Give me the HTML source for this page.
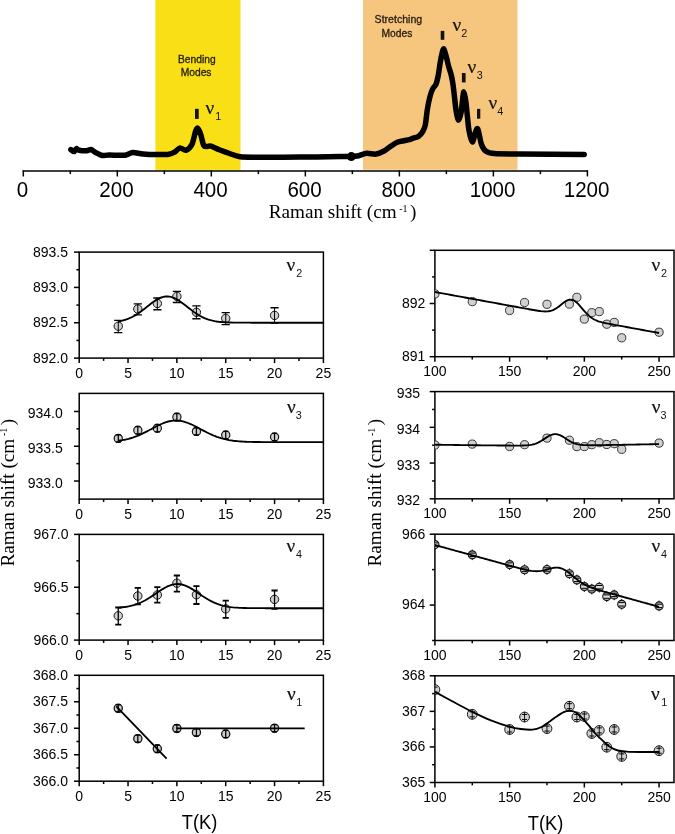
<!DOCTYPE html>
<html><head><meta charset="utf-8"><style>
html,body{margin:0;padding:0;background:#fff;width:675px;height:834px;overflow:hidden}
svg{display:block;will-change:transform}
text{font-family:"Liberation Sans",sans-serif}
text.sf{font-family:"Liberation Serif",serif}
</style></head><body>
<svg width="675" height="834" viewBox="0 0 675 834">
<rect x="155.4" y="0" width="85.1" height="169.9" fill="#f9df15"/>
<rect x="363" y="0" width="154.5" height="169.8" fill="#f6c67e"/>
<text x="196.8" y="62.5" font-size="10.3" text-anchor="middle" textLength="37.6" lengthAdjust="spacingAndGlyphs" fill="#262208" stroke="#262208" stroke-width="0.3">Bending</text>
<text x="196.1" y="75.6" font-size="10.3" text-anchor="middle" textLength="30.8" lengthAdjust="spacingAndGlyphs" fill="#262208" stroke="#262208" stroke-width="0.3">Modes</text>
<text x="398.4" y="23.2" font-size="10.3" text-anchor="middle" textLength="47.6" lengthAdjust="spacingAndGlyphs" fill="#2a2014" stroke="#2a2014" stroke-width="0.3">Stretching</text>
<text x="396.9" y="36.5" font-size="10.3" text-anchor="middle" textLength="30.8" lengthAdjust="spacingAndGlyphs" fill="#2a2014" stroke="#2a2014" stroke-width="0.3">Modes</text>
<path d="M70.9,149.6 C71.37,149.9 73.19,151.75 74,151.6 C74.81,151.45 75.5,148.79 76.3,148.6 C77.09,148.41 77.74,149.97 79.3,150.3 C80.86,150.63 84.93,150.92 86.7,150.8 C88.47,150.68 89.77,149.25 91.1,149.5 C92.43,149.75 93.93,151.6 95.6,152.5 C97.27,153.4 100.2,155.12 102.2,155.5 C104.2,155.88 105.45,155.05 108.9,155 C112.35,154.95 121.65,155.57 125.2,155.2 C128.75,154.82 129.93,152.68 132.6,152.5 C135.27,152.32 139.44,153.69 143,154 C146.56,154.31 152.42,154.56 156.3,154.6 C160.19,154.64 166.12,154.69 168.9,154.3 C171.68,153.91 173.14,152.96 174.8,152 C176.47,151.04 178.34,148.16 180,147.9 C181.66,147.65 184.12,150.8 185.9,150.3 C187.69,149.81 190.44,147.45 191.9,144.6 C193.36,141.75 194.72,133.75 195.6,131.3 C196.48,128.86 197.04,127.85 197.8,128.3 C198.56,128.75 199.81,131.74 200.7,134.3 C201.58,136.87 202.69,143.59 203.7,145.4 C204.7,147.22 206.29,146.3 207.4,146.4 C208.51,146.5 209.31,145.59 211.1,146.1 C212.88,146.61 216.53,148.69 219.3,149.8 C222.08,150.91 226.5,152.45 229.6,153.5 C232.7,154.55 235.44,156.25 240,156.8 C244.56,157.36 251,157.16 260,157.2 C269,157.24 288,157.19 300,157.1 C312,157.01 332.31,156.67 340,156.6 C347.69,156.53 348.5,156.73 351.3,156.6 C354.11,156.47 356.39,156.19 358.7,155.7 C361.01,155.2 364.1,153.54 366.7,153.3 C369.3,153.06 373.4,154.44 376,154.1 C378.6,153.75 381.8,152.17 384,151 C386.2,149.83 388.7,147.61 390.7,146.3 C392.69,145 395.31,143.14 397.3,142.3 C399.3,141.46 402.2,141.09 404,140.7 C405.8,140.31 407.91,140.09 409.3,139.7 C410.69,139.31 411.89,138.61 413.3,138.1 C414.71,137.59 417.29,137.26 418.7,136.3 C420.11,135.34 421.71,133.39 422.7,131.7 C423.69,130 424.6,128.39 425.3,125 C426,121.61 426.68,113.44 427.4,109.1 C428.12,104.76 429.29,99.17 430.1,96.1 C430.91,93.02 431.92,90.38 432.8,88.6 C433.69,86.81 435.19,86.15 436,84.2 C436.81,82.25 437.54,78.99 438.2,75.6 C438.86,72.21 439.75,65.2 440.4,61.6 C441.04,58 441.98,53.49 442.5,51.6 C443.02,49.71 443.33,48.22 443.9,49 C444.47,49.78 445.61,54.26 446.3,56.8 C446.99,59.34 447.78,63.25 448.5,65.9 C449.22,68.56 450.46,71.91 451.1,74.5 C451.75,77.09 452.31,79.96 452.8,83.2 C453.3,86.44 453.92,92.06 454.4,96.1 C454.88,100.13 455.43,106.53 456,110.1 C456.57,113.67 457.46,119.41 458.2,119.9 C458.94,120.4 460.25,116.33 460.9,113.4 C461.54,110.48 462.06,103.64 462.5,100.4 C462.94,97.16 463.32,91.8 463.8,91.8 C464.28,91.8 465.18,96.84 465.7,100.4 C466.22,103.96 466.81,110.98 467.3,115.5 C467.8,120.02 468.25,126.53 469,130.5 C469.75,134.47 471.36,141.66 472.3,142 C473.25,142.34 474.48,134.75 475.3,132.8 C476.12,130.85 476.87,127.25 477.8,129 C478.73,130.75 480.27,141.16 481.5,144.5 C482.73,147.84 484.06,149.94 486,151.3 C487.94,152.67 489.3,153.18 494.4,153.6 C499.5,154.02 506.53,153.98 520,154.1 C533.47,154.22 574.57,154.36 584.2,154.4" fill="none" stroke="#000" stroke-width="5.5" stroke-linejoin="round" stroke-linecap="round"/>
<circle cx="351.3" cy="156.6" r="4.5" fill="#000"/>
<rect x="195" y="108.8" width="3.7" height="10.1" fill="#111"/>
<rect x="440.7" y="30.9" width="3.6" height="8.9" fill="#111"/>
<rect x="461.9" y="73" width="3.7" height="9.4" fill="#111"/>
<rect x="477" y="108.9" width="3.3" height="9.8" fill="#111"/>
<text x="205.6" y="114.4" class="sf" font-size="19.2" fill="#111" stroke="#111" stroke-width="0.2">&#957;</text>
<text x="215.2" y="120.3" font-size="10.8" fill="#111">1</text>
<text x="452.4" y="31.2" class="sf" font-size="19.2" fill="#111" stroke="#111" stroke-width="0.2">&#957;</text>
<text x="461.3" y="36.5" font-size="10.8" fill="#111">2</text>
<text x="467.6" y="73" class="sf" font-size="19.2" fill="#111" stroke="#111" stroke-width="0.2">&#957;</text>
<text x="476.8" y="79.4" font-size="10.8" fill="#111">3</text>
<text x="488.4" y="109.3" class="sf" font-size="19.2" fill="#111" stroke="#111" stroke-width="0.2">&#957;</text>
<text x="497.3" y="115.2" font-size="10.8" fill="#111">4</text>
<line x1="22.7" y1="170.95" x2="588" y2="170.95" stroke="#000" stroke-width="1.5"/>
<line x1="23.3" y1="170.35" x2="23.3" y2="176.45" stroke="#000" stroke-width="1.5"/>
<text x="22.5" y="196.8" font-size="22.6" text-anchor="middle" textLength="11.44" lengthAdjust="spacingAndGlyphs" fill="#000">0</text>
<line x1="70.31" y1="170.35" x2="70.31" y2="174.15" stroke="#000" stroke-width="1.5"/>
<line x1="117.32" y1="170.35" x2="117.32" y2="176.45" stroke="#000" stroke-width="1.5"/>
<text x="116.52" y="196.8" font-size="22.6" text-anchor="middle" textLength="34.31" lengthAdjust="spacingAndGlyphs" fill="#000">200</text>
<line x1="164.33" y1="170.35" x2="164.33" y2="174.15" stroke="#000" stroke-width="1.5"/>
<line x1="211.33" y1="170.35" x2="211.33" y2="176.45" stroke="#000" stroke-width="1.5"/>
<text x="210.53" y="196.8" font-size="22.6" text-anchor="middle" textLength="34.31" lengthAdjust="spacingAndGlyphs" fill="#000">400</text>
<line x1="258.34" y1="170.35" x2="258.34" y2="174.15" stroke="#000" stroke-width="1.5"/>
<line x1="305.35" y1="170.35" x2="305.35" y2="176.45" stroke="#000" stroke-width="1.5"/>
<text x="304.55" y="196.8" font-size="22.6" text-anchor="middle" textLength="34.31" lengthAdjust="spacingAndGlyphs" fill="#000">600</text>
<line x1="352.36" y1="170.35" x2="352.36" y2="174.15" stroke="#000" stroke-width="1.5"/>
<line x1="399.37" y1="170.35" x2="399.37" y2="176.45" stroke="#000" stroke-width="1.5"/>
<text x="398.57" y="196.8" font-size="22.6" text-anchor="middle" textLength="34.31" lengthAdjust="spacingAndGlyphs" fill="#000">800</text>
<line x1="446.38" y1="170.35" x2="446.38" y2="174.15" stroke="#000" stroke-width="1.5"/>
<line x1="493.38" y1="170.35" x2="493.38" y2="176.45" stroke="#000" stroke-width="1.5"/>
<text x="492.58" y="196.8" font-size="22.6" text-anchor="middle" textLength="45.74" lengthAdjust="spacingAndGlyphs" fill="#000">1000</text>
<line x1="540.39" y1="170.35" x2="540.39" y2="174.15" stroke="#000" stroke-width="1.5"/>
<line x1="587.4" y1="170.35" x2="587.4" y2="176.45" stroke="#000" stroke-width="1.5"/>
<text x="586.6" y="196.8" font-size="22.6" text-anchor="middle" textLength="45.74" lengthAdjust="spacingAndGlyphs" fill="#000">1200</text>
<text x="268.7" y="218.1" class="sf" font-size="19.2" fill="#000">Raman shift (cm<tspan font-size="10" dx="2.6" dy="-6.5">-1</tspan><tspan dx="2.4" dy="6.5">)</tspan></text>
<rect x="79.2" y="252.1" width="244.2" height="106" fill="none" stroke="#000" stroke-width="1.5"/>
<line x1="74" y1="252.1" x2="79.2" y2="252.1" stroke="#000" stroke-width="1.5"/>
<line x1="74" y1="287.43" x2="79.2" y2="287.43" stroke="#000" stroke-width="1.5"/>
<line x1="74" y1="322.77" x2="79.2" y2="322.77" stroke="#000" stroke-width="1.5"/>
<line x1="74" y1="358.1" x2="79.2" y2="358.1" stroke="#000" stroke-width="1.5"/>
<line x1="76.4" y1="269.77" x2="79.2" y2="269.77" stroke="#000" stroke-width="1.5"/>
<line x1="76.4" y1="305.1" x2="79.2" y2="305.1" stroke="#000" stroke-width="1.5"/>
<line x1="76.4" y1="340.43" x2="79.2" y2="340.43" stroke="#000" stroke-width="1.5"/>
<text x="68" y="256.5" font-size="14" text-anchor="end" fill="#000">893.5</text>
<text x="68" y="291.83" font-size="14" text-anchor="end" fill="#000">893.0</text>
<text x="68" y="327.17" font-size="14" text-anchor="end" fill="#000">892.5</text>
<text x="68" y="362.5" font-size="14" text-anchor="end" fill="#000">892.0</text>
<line x1="79.2" y1="358.1" x2="79.2" y2="363.1" stroke="#000" stroke-width="1.5"/>
<line x1="128.04" y1="358.1" x2="128.04" y2="363.1" stroke="#000" stroke-width="1.5"/>
<line x1="176.88" y1="358.1" x2="176.88" y2="363.1" stroke="#000" stroke-width="1.5"/>
<line x1="225.72" y1="358.1" x2="225.72" y2="363.1" stroke="#000" stroke-width="1.5"/>
<line x1="274.56" y1="358.1" x2="274.56" y2="363.1" stroke="#000" stroke-width="1.5"/>
<line x1="323.4" y1="358.1" x2="323.4" y2="363.1" stroke="#000" stroke-width="1.5"/>
<line x1="103.62" y1="358.1" x2="103.62" y2="360.9" stroke="#000" stroke-width="1.5"/>
<line x1="152.46" y1="358.1" x2="152.46" y2="360.9" stroke="#000" stroke-width="1.5"/>
<line x1="201.3" y1="358.1" x2="201.3" y2="360.9" stroke="#000" stroke-width="1.5"/>
<line x1="250.14" y1="358.1" x2="250.14" y2="360.9" stroke="#000" stroke-width="1.5"/>
<line x1="298.98" y1="358.1" x2="298.98" y2="360.9" stroke="#000" stroke-width="1.5"/>
<text x="79.2" y="377.6" font-size="14" text-anchor="middle" fill="#000">0</text>
<text x="128.04" y="377.6" font-size="14" text-anchor="middle" fill="#000">5</text>
<text x="176.88" y="377.6" font-size="14" text-anchor="middle" fill="#000">10</text>
<text x="225.72" y="377.6" font-size="14" text-anchor="middle" fill="#000">15</text>
<text x="274.56" y="377.6" font-size="14" text-anchor="middle" fill="#000">20</text>
<text x="323.4" y="377.6" font-size="14" text-anchor="middle" fill="#000">25</text>
<clipPath id="c1"><rect x="79.2" y="252.1" width="244.2" height="106"/></clipPath><g clip-path="url(#c1)">
<circle cx="118.27" cy="326.2" r="4.2" fill="#d0d0d0" stroke="#151515" stroke-width="1.0"/><path d="M118.27,320.4 V332.6" stroke="#000" stroke-width="1.0" fill="none"/><path d="M114.17,320.4 h8.2 M114.17,332.6 h8.2" stroke="#000" stroke-width="1.35" fill="none"/>
<circle cx="137.81" cy="309" r="4.2" fill="#d0d0d0" stroke="#151515" stroke-width="1.0"/><path d="M137.81,303.9 V314.8" stroke="#000" stroke-width="1.0" fill="none"/><path d="M133.71,303.9 h8.2 M133.71,314.8 h8.2" stroke="#000" stroke-width="1.35" fill="none"/>
<circle cx="157.34" cy="303.5" r="4.2" fill="#d0d0d0" stroke="#151515" stroke-width="1.0"/><path d="M157.34,298 V309.7" stroke="#000" stroke-width="1.0" fill="none"/><path d="M153.24,298 h8.2 M153.24,309.7 h8.2" stroke="#000" stroke-width="1.35" fill="none"/>
<circle cx="176.88" cy="296.4" r="4.2" fill="#d0d0d0" stroke="#151515" stroke-width="1.0"/><path d="M176.88,291.4 V302.5" stroke="#000" stroke-width="1.0" fill="none"/><path d="M172.78,291.4 h8.2 M172.78,302.5 h8.2" stroke="#000" stroke-width="1.35" fill="none"/>
<circle cx="196.42" cy="312.3" r="4.2" fill="#d0d0d0" stroke="#151515" stroke-width="1.0"/><path d="M196.42,305.8 V318.7" stroke="#000" stroke-width="1.0" fill="none"/><path d="M192.32,305.8 h8.2 M192.32,318.7 h8.2" stroke="#000" stroke-width="1.35" fill="none"/>
<circle cx="225.72" cy="318.4" r="4.2" fill="#d0d0d0" stroke="#151515" stroke-width="1.0"/><path d="M225.72,312.6 V324.6" stroke="#000" stroke-width="1.0" fill="none"/><path d="M221.62,312.6 h8.2 M221.62,324.6 h8.2" stroke="#000" stroke-width="1.35" fill="none"/>
<circle cx="274.56" cy="315.4" r="4.2" fill="#d0d0d0" stroke="#151515" stroke-width="1.0"/><path d="M274.56,307.7 V323.1" stroke="#000" stroke-width="1.0" fill="none"/><path d="M270.46,307.7 h8.2 M270.46,323.1 h8.2" stroke="#000" stroke-width="1.35" fill="none"/>
<path d="M118.27,321.36 L120.32,320.98 L122.37,320.53 L124.43,319.99 L126.48,319.34 L128.53,318.59 L130.58,317.72 L132.63,316.73 L134.68,315.61 L136.73,314.38 L138.78,313.03 L140.84,311.58 L142.89,310.05 L144.94,308.45 L146.99,306.83 L149.04,305.2 L151.09,303.6 L153.14,302.08 L155.2,300.67 L157.25,299.41 L159.3,298.33 L161.35,297.47 L163.4,296.85 L165.45,296.49 L167.5,296.41 L169.55,296.59 L171.61,297.05 L173.66,297.77 L175.71,298.71 L177.76,299.87 L179.81,301.19 L181.86,302.65 L183.91,304.2 L185.96,305.82 L188.02,307.45 L190.07,309.07 L192.12,310.64 L194.17,312.14 L196.22,313.56 L198.27,314.86 L200.32,316.05 L202.37,317.12 L204.43,318.07 L206.48,318.89 L208.53,319.6 L210.58,320.21 L212.63,320.71 L214.68,321.14 L216.73,321.48 L218.78,321.76 L220.84,321.98 L222.89,322.16 L224.94,322.29 L226.99,322.4 L229.04,322.48 L231.09,322.54 L233.14,322.59 L235.19,322.62 L237.25,322.64 L239.3,322.66 L241.35,322.67 L243.4,322.68 L245.45,322.69 L247.5,322.69 L249.55,322.69 L251.61,322.7 L253.66,322.7 L255.71,322.7 L257.76,322.7 L259.81,322.7 L261.86,322.7 L263.91,322.7 L265.96,322.7 L268.02,322.7 L270.07,322.7 L272.12,322.7 L274.17,322.7 L276.22,322.7 L278.27,322.7 L280.32,322.7 L282.37,322.7 L284.43,322.7 L286.48,322.7 L288.53,322.7 L290.58,322.7 L292.63,322.7 L294.68,322.7 L296.73,322.7 L298.78,322.7 L300.84,322.7 L302.89,322.7 L304.94,322.7 L306.99,322.7 L309.04,322.7 L311.09,322.7 L313.14,322.7 L315.19,322.7 L317.25,322.7 L319.3,322.7 L321.35,322.7 L323.4,322.7" fill="none" stroke="#000" stroke-width="1.85"/>
</g>
<rect x="79.2" y="393.4" width="244.2" height="105.7" fill="none" stroke="#000" stroke-width="1.5"/>
<line x1="74" y1="411.48" x2="79.2" y2="411.48" stroke="#000" stroke-width="1.5"/>
<line x1="74" y1="446.25" x2="79.2" y2="446.25" stroke="#000" stroke-width="1.5"/>
<line x1="74" y1="481.02" x2="79.2" y2="481.02" stroke="#000" stroke-width="1.5"/>
<line x1="76.4" y1="428.87" x2="79.2" y2="428.87" stroke="#000" stroke-width="1.5"/>
<line x1="76.4" y1="463.63" x2="79.2" y2="463.63" stroke="#000" stroke-width="1.5"/>
<text x="62.8" y="418.08" font-size="14" text-anchor="end" fill="#000">934.0</text>
<text x="62.8" y="452.85" font-size="14" text-anchor="end" fill="#000">933.5</text>
<text x="62.8" y="487.62" font-size="14" text-anchor="end" fill="#000">933.0</text>
<line x1="79.2" y1="499.1" x2="79.2" y2="504.1" stroke="#000" stroke-width="1.5"/>
<line x1="128.04" y1="499.1" x2="128.04" y2="504.1" stroke="#000" stroke-width="1.5"/>
<line x1="176.88" y1="499.1" x2="176.88" y2="504.1" stroke="#000" stroke-width="1.5"/>
<line x1="225.72" y1="499.1" x2="225.72" y2="504.1" stroke="#000" stroke-width="1.5"/>
<line x1="274.56" y1="499.1" x2="274.56" y2="504.1" stroke="#000" stroke-width="1.5"/>
<line x1="323.4" y1="499.1" x2="323.4" y2="504.1" stroke="#000" stroke-width="1.5"/>
<line x1="103.62" y1="499.1" x2="103.62" y2="501.9" stroke="#000" stroke-width="1.5"/>
<line x1="152.46" y1="499.1" x2="152.46" y2="501.9" stroke="#000" stroke-width="1.5"/>
<line x1="201.3" y1="499.1" x2="201.3" y2="501.9" stroke="#000" stroke-width="1.5"/>
<line x1="250.14" y1="499.1" x2="250.14" y2="501.9" stroke="#000" stroke-width="1.5"/>
<line x1="298.98" y1="499.1" x2="298.98" y2="501.9" stroke="#000" stroke-width="1.5"/>
<text x="79.2" y="518.6" font-size="14" text-anchor="middle" fill="#000">0</text>
<text x="128.04" y="518.6" font-size="14" text-anchor="middle" fill="#000">5</text>
<text x="176.88" y="518.6" font-size="14" text-anchor="middle" fill="#000">10</text>
<text x="225.72" y="518.6" font-size="14" text-anchor="middle" fill="#000">15</text>
<text x="274.56" y="518.6" font-size="14" text-anchor="middle" fill="#000">20</text>
<text x="323.4" y="518.6" font-size="14" text-anchor="middle" fill="#000">25</text>
<clipPath id="c2"><rect x="79.2" y="393.4" width="244.2" height="105.7"/></clipPath><g clip-path="url(#c2)">
<circle cx="118.27" cy="438.4" r="4.1" fill="#d0d0d0" stroke="#151515" stroke-width="1.2"/><path d="M118.27,434.8 V442" stroke="#000" stroke-width="1.25" fill="none"/><path d="M115.77,434.8 h5 M115.77,442 h5" stroke="#000" stroke-width="1.3" fill="none"/>
<circle cx="137.81" cy="430.3" r="4.1" fill="#d0d0d0" stroke="#151515" stroke-width="1.2"/><path d="M137.81,426.7 V433.9" stroke="#000" stroke-width="1.25" fill="none"/><path d="M135.31,426.7 h5 M135.31,433.9 h5" stroke="#000" stroke-width="1.3" fill="none"/>
<circle cx="157.34" cy="428.2" r="4.1" fill="#d0d0d0" stroke="#151515" stroke-width="1.2"/><path d="M157.34,424.6 V431.8" stroke="#000" stroke-width="1.25" fill="none"/><path d="M154.84,424.6 h5 M154.84,431.8 h5" stroke="#000" stroke-width="1.3" fill="none"/>
<circle cx="176.88" cy="417.1" r="4.1" fill="#d0d0d0" stroke="#151515" stroke-width="1.2"/><path d="M176.88,413.5 V420.7" stroke="#000" stroke-width="1.25" fill="none"/><path d="M174.38,413.5 h5 M174.38,420.7 h5" stroke="#000" stroke-width="1.3" fill="none"/>
<circle cx="196.42" cy="431.4" r="4.1" fill="#d0d0d0" stroke="#151515" stroke-width="1.2"/><path d="M196.42,427.8 V435" stroke="#000" stroke-width="1.25" fill="none"/><path d="M193.92,427.8 h5 M193.92,435 h5" stroke="#000" stroke-width="1.3" fill="none"/>
<circle cx="225.72" cy="435" r="4.1" fill="#d0d0d0" stroke="#151515" stroke-width="1.2"/><path d="M225.72,431.4 V438.6" stroke="#000" stroke-width="1.25" fill="none"/><path d="M223.22,431.4 h5 M223.22,438.6 h5" stroke="#000" stroke-width="1.3" fill="none"/>
<circle cx="274.56" cy="437" r="4.1" fill="#d0d0d0" stroke="#151515" stroke-width="1.2"/><path d="M274.56,433.4 V440.6" stroke="#000" stroke-width="1.25" fill="none"/><path d="M272.06,433.4 h5 M272.06,440.6 h5" stroke="#000" stroke-width="1.3" fill="none"/>
<path d="M118.27,440.77 L120.32,440.48 L122.37,440.15 L124.43,439.76 L126.48,439.31 L128.53,438.81 L130.58,438.24 L132.63,437.61 L134.68,436.9 L136.73,436.13 L138.78,435.3 L140.84,434.4 L142.89,433.44 L144.94,432.43 L146.99,431.38 L149.04,430.3 L151.09,429.21 L153.14,428.11 L155.2,427.02 L157.25,425.97 L159.3,424.96 L161.35,424.01 L163.4,423.15 L165.45,422.39 L167.5,421.74 L169.55,421.22 L171.61,420.83 L173.66,420.59 L175.71,420.5 L177.76,420.56 L179.81,420.77 L181.86,421.13 L183.91,421.63 L185.96,422.26 L188.02,423 L190.07,423.84 L192.12,424.77 L194.17,425.77 L196.22,426.82 L198.27,427.9 L200.32,429 L202.37,430.1 L204.43,431.18 L206.48,432.24 L208.53,433.25 L210.58,434.22 L212.63,435.13 L214.68,435.98 L216.73,436.76 L218.78,437.48 L220.84,438.13 L222.89,438.71 L224.94,439.22 L226.99,439.68 L229.04,440.08 L231.09,440.42 L233.14,440.72 L235.19,440.97 L237.25,441.18 L239.3,441.36 L241.35,441.5 L243.4,441.63 L245.45,441.73 L247.5,441.81 L249.55,441.87 L251.61,441.92 L253.66,441.96 L255.71,442 L257.76,442.02 L259.81,442.04 L261.86,442.06 L263.91,442.07 L265.96,442.08 L268.02,442.08 L270.07,442.09 L272.12,442.09 L274.17,442.09 L276.22,442.1 L278.27,442.1 L280.32,442.1 L282.37,442.1 L284.43,442.1 L286.48,442.1 L288.53,442.1 L290.58,442.1 L292.63,442.1 L294.68,442.1 L296.73,442.1 L298.78,442.1 L300.84,442.1 L302.89,442.1 L304.94,442.1 L306.99,442.1 L309.04,442.1 L311.09,442.1 L313.14,442.1 L315.19,442.1 L317.25,442.1 L319.3,442.1 L321.35,442.1 L323.4,442.1" fill="none" stroke="#000" stroke-width="1.85"/>
</g>
<rect x="79.2" y="534.4" width="244.2" height="105.7" fill="none" stroke="#000" stroke-width="1.5"/>
<line x1="74" y1="534.4" x2="79.2" y2="534.4" stroke="#000" stroke-width="1.5"/>
<line x1="74" y1="587.25" x2="79.2" y2="587.25" stroke="#000" stroke-width="1.5"/>
<line x1="74" y1="640.1" x2="79.2" y2="640.1" stroke="#000" stroke-width="1.5"/>
<line x1="76.4" y1="560.83" x2="79.2" y2="560.83" stroke="#000" stroke-width="1.5"/>
<line x1="76.4" y1="613.67" x2="79.2" y2="613.67" stroke="#000" stroke-width="1.5"/>
<text x="68.5" y="538.8" font-size="14" text-anchor="end" fill="#000">967.0</text>
<text x="68.5" y="591.65" font-size="14" text-anchor="end" fill="#000">966.5</text>
<text x="68.5" y="644.5" font-size="14" text-anchor="end" fill="#000">966.0</text>
<line x1="79.2" y1="640.1" x2="79.2" y2="645.1" stroke="#000" stroke-width="1.5"/>
<line x1="128.04" y1="640.1" x2="128.04" y2="645.1" stroke="#000" stroke-width="1.5"/>
<line x1="176.88" y1="640.1" x2="176.88" y2="645.1" stroke="#000" stroke-width="1.5"/>
<line x1="225.72" y1="640.1" x2="225.72" y2="645.1" stroke="#000" stroke-width="1.5"/>
<line x1="274.56" y1="640.1" x2="274.56" y2="645.1" stroke="#000" stroke-width="1.5"/>
<line x1="323.4" y1="640.1" x2="323.4" y2="645.1" stroke="#000" stroke-width="1.5"/>
<line x1="103.62" y1="640.1" x2="103.62" y2="642.9" stroke="#000" stroke-width="1.5"/>
<line x1="152.46" y1="640.1" x2="152.46" y2="642.9" stroke="#000" stroke-width="1.5"/>
<line x1="201.3" y1="640.1" x2="201.3" y2="642.9" stroke="#000" stroke-width="1.5"/>
<line x1="250.14" y1="640.1" x2="250.14" y2="642.9" stroke="#000" stroke-width="1.5"/>
<line x1="298.98" y1="640.1" x2="298.98" y2="642.9" stroke="#000" stroke-width="1.5"/>
<text x="79.2" y="659.6" font-size="14" text-anchor="middle" fill="#000">0</text>
<text x="128.04" y="659.6" font-size="14" text-anchor="middle" fill="#000">5</text>
<text x="176.88" y="659.6" font-size="14" text-anchor="middle" fill="#000">10</text>
<text x="225.72" y="659.6" font-size="14" text-anchor="middle" fill="#000">15</text>
<text x="274.56" y="659.6" font-size="14" text-anchor="middle" fill="#000">20</text>
<text x="323.4" y="659.6" font-size="14" text-anchor="middle" fill="#000">25</text>
<clipPath id="c3"><rect x="79.2" y="534.4" width="244.2" height="105.7"/></clipPath><g clip-path="url(#c3)">
<circle cx="118.27" cy="615.8" r="4.2" fill="#d0d0d0" stroke="#151515" stroke-width="1.0"/><path d="M118.27,607.5 V624.6" stroke="#000" stroke-width="1.3" fill="none"/><path d="M115.17,607.5 h6.2 M115.17,624.6 h6.2" stroke="#000" stroke-width="1.8" fill="none"/>
<circle cx="137.81" cy="596" r="4.2" fill="#d0d0d0" stroke="#151515" stroke-width="1.0"/><path d="M137.81,587.8 V604.4" stroke="#000" stroke-width="1.3" fill="none"/><path d="M134.71,587.8 h6.2 M134.71,604.4 h6.2" stroke="#000" stroke-width="1.8" fill="none"/>
<circle cx="157.34" cy="595" r="4.2" fill="#d0d0d0" stroke="#151515" stroke-width="1.0"/><path d="M157.34,587.2 V602.6" stroke="#000" stroke-width="1.3" fill="none"/><path d="M154.24,587.2 h6.2 M154.24,602.6 h6.2" stroke="#000" stroke-width="1.8" fill="none"/>
<circle cx="176.88" cy="583.2" r="4.2" fill="#d0d0d0" stroke="#151515" stroke-width="1.0"/><path d="M176.88,575.5 V591.6" stroke="#000" stroke-width="1.3" fill="none"/><path d="M173.78,575.5 h6.2 M173.78,591.6 h6.2" stroke="#000" stroke-width="1.8" fill="none"/>
<circle cx="196.42" cy="594.8" r="4.2" fill="#d0d0d0" stroke="#151515" stroke-width="1.0"/><path d="M196.42,586.2 V604" stroke="#000" stroke-width="1.3" fill="none"/><path d="M193.32,586.2 h6.2 M193.32,604 h6.2" stroke="#000" stroke-width="1.8" fill="none"/>
<circle cx="225.72" cy="608.9" r="4.2" fill="#d0d0d0" stroke="#151515" stroke-width="1.0"/><path d="M225.72,600.6 V617.8" stroke="#000" stroke-width="1.3" fill="none"/><path d="M222.62,600.6 h6.2 M222.62,617.8 h6.2" stroke="#000" stroke-width="1.8" fill="none"/>
<circle cx="274.56" cy="599.4" r="4.2" fill="#d0d0d0" stroke="#151515" stroke-width="1.0"/><path d="M274.56,590.5 V608.9" stroke="#000" stroke-width="1.3" fill="none"/><path d="M271.46,590.5 h6.2 M271.46,608.9 h6.2" stroke="#000" stroke-width="1.8" fill="none"/>
<path d="M118.27,607.65 L120.32,607.49 L122.37,607.28 L124.43,607.04 L126.48,606.73 L128.53,606.37 L130.58,605.94 L132.63,605.43 L134.68,604.83 L136.73,604.15 L138.78,603.37 L140.84,602.49 L142.89,601.52 L144.94,600.45 L146.99,599.29 L149.04,598.05 L151.09,596.74 L153.14,595.38 L155.2,593.99 L157.25,592.59 L159.3,591.21 L161.35,589.87 L163.4,588.61 L165.45,587.45 L167.5,586.42 L169.55,585.55 L171.61,584.85 L173.66,584.36 L175.71,584.07 L177.76,584 L179.81,584.16 L181.86,584.52 L183.91,585.1 L185.96,585.86 L188.02,586.8 L190.07,587.88 L192.12,589.08 L194.17,590.37 L196.22,591.73 L198.27,593.12 L200.32,594.52 L202.37,595.9 L204.43,597.25 L206.48,598.53 L208.53,599.74 L210.58,600.87 L212.63,601.9 L214.68,602.84 L216.73,603.68 L218.78,604.42 L220.84,605.07 L222.89,605.63 L224.94,606.11 L226.99,606.52 L229.04,606.86 L231.09,607.14 L233.14,607.37 L235.19,607.55 L237.25,607.7 L239.3,607.82 L241.35,607.91 L243.4,607.98 L245.45,608.04 L247.5,608.08 L249.55,608.11 L251.61,608.14 L253.66,608.16 L255.71,608.17 L257.76,608.18 L259.81,608.18 L261.86,608.19 L263.91,608.19 L265.96,608.2 L268.02,608.2 L270.07,608.2 L272.12,608.2 L274.17,608.2 L276.22,608.2 L278.27,608.2 L280.32,608.2 L282.37,608.2 L284.43,608.2 L286.48,608.2 L288.53,608.2 L290.58,608.2 L292.63,608.2 L294.68,608.2 L296.73,608.2 L298.78,608.2 L300.84,608.2 L302.89,608.2 L304.94,608.2 L306.99,608.2 L309.04,608.2 L311.09,608.2 L313.14,608.2 L315.19,608.2 L317.25,608.2 L319.3,608.2 L321.35,608.2 L323.4,608.2" fill="none" stroke="#000" stroke-width="1.85"/>
</g>
<rect x="79.2" y="675.3" width="244.2" height="105.9" fill="none" stroke="#000" stroke-width="1.5"/>
<line x1="74" y1="675.3" x2="79.2" y2="675.3" stroke="#000" stroke-width="1.5"/>
<line x1="74" y1="701.77" x2="79.2" y2="701.77" stroke="#000" stroke-width="1.5"/>
<line x1="74" y1="728.25" x2="79.2" y2="728.25" stroke="#000" stroke-width="1.5"/>
<line x1="74" y1="754.73" x2="79.2" y2="754.73" stroke="#000" stroke-width="1.5"/>
<line x1="74" y1="781.2" x2="79.2" y2="781.2" stroke="#000" stroke-width="1.5"/>
<line x1="76.4" y1="688.54" x2="79.2" y2="688.54" stroke="#000" stroke-width="1.5"/>
<line x1="76.4" y1="715.01" x2="79.2" y2="715.01" stroke="#000" stroke-width="1.5"/>
<line x1="76.4" y1="741.49" x2="79.2" y2="741.49" stroke="#000" stroke-width="1.5"/>
<line x1="76.4" y1="767.96" x2="79.2" y2="767.96" stroke="#000" stroke-width="1.5"/>
<text x="68" y="679.7" font-size="14" text-anchor="end" fill="#000">368.0</text>
<text x="68" y="706.17" font-size="14" text-anchor="end" fill="#000">367.5</text>
<text x="68" y="732.65" font-size="14" text-anchor="end" fill="#000">367.0</text>
<text x="68" y="759.12" font-size="14" text-anchor="end" fill="#000">366.5</text>
<text x="68" y="785.6" font-size="14" text-anchor="end" fill="#000">366.0</text>
<line x1="79.2" y1="781.2" x2="79.2" y2="786.2" stroke="#000" stroke-width="1.5"/>
<line x1="128.04" y1="781.2" x2="128.04" y2="786.2" stroke="#000" stroke-width="1.5"/>
<line x1="176.88" y1="781.2" x2="176.88" y2="786.2" stroke="#000" stroke-width="1.5"/>
<line x1="225.72" y1="781.2" x2="225.72" y2="786.2" stroke="#000" stroke-width="1.5"/>
<line x1="274.56" y1="781.2" x2="274.56" y2="786.2" stroke="#000" stroke-width="1.5"/>
<line x1="323.4" y1="781.2" x2="323.4" y2="786.2" stroke="#000" stroke-width="1.5"/>
<line x1="103.62" y1="781.2" x2="103.62" y2="784" stroke="#000" stroke-width="1.5"/>
<line x1="152.46" y1="781.2" x2="152.46" y2="784" stroke="#000" stroke-width="1.5"/>
<line x1="201.3" y1="781.2" x2="201.3" y2="784" stroke="#000" stroke-width="1.5"/>
<line x1="250.14" y1="781.2" x2="250.14" y2="784" stroke="#000" stroke-width="1.5"/>
<line x1="298.98" y1="781.2" x2="298.98" y2="784" stroke="#000" stroke-width="1.5"/>
<text x="79.2" y="800.7" font-size="14" text-anchor="middle" fill="#000">0</text>
<text x="128.04" y="800.7" font-size="14" text-anchor="middle" fill="#000">5</text>
<text x="176.88" y="800.7" font-size="14" text-anchor="middle" fill="#000">10</text>
<text x="225.72" y="800.7" font-size="14" text-anchor="middle" fill="#000">15</text>
<text x="274.56" y="800.7" font-size="14" text-anchor="middle" fill="#000">20</text>
<text x="323.4" y="800.7" font-size="14" text-anchor="middle" fill="#000">25</text>
<clipPath id="c4"><rect x="79.2" y="675.3" width="244.2" height="105.9"/></clipPath><g clip-path="url(#c4)">
<circle cx="118.27" cy="708.3" r="4.1" fill="#c9c9c9" stroke="#151515" stroke-width="1.3"/><path d="M118.27,704.7 V711.9" stroke="#000" stroke-width="1.25" fill="none"/><path d="M115.77,704.7 h5 M115.77,711.9 h5" stroke="#000" stroke-width="1.4" fill="none"/>
<circle cx="137.81" cy="738.7" r="4.1" fill="#c9c9c9" stroke="#151515" stroke-width="1.3"/><path d="M137.81,735.1 V742.3" stroke="#000" stroke-width="1.25" fill="none"/><path d="M135.31,735.1 h5 M135.31,742.3 h5" stroke="#000" stroke-width="1.4" fill="none"/>
<circle cx="157.34" cy="748.8" r="4.1" fill="#c9c9c9" stroke="#151515" stroke-width="1.3"/><path d="M157.34,745.2 V752.4" stroke="#000" stroke-width="1.25" fill="none"/><path d="M154.84,745.2 h5 M154.84,752.4 h5" stroke="#000" stroke-width="1.4" fill="none"/>
<circle cx="176.88" cy="728.4" r="4.1" fill="#c9c9c9" stroke="#151515" stroke-width="1.3"/><path d="M176.88,724.8 V732" stroke="#000" stroke-width="1.25" fill="none"/><path d="M174.38,724.8 h5 M174.38,732 h5" stroke="#000" stroke-width="1.4" fill="none"/>
<circle cx="196.42" cy="732.4" r="4.1" fill="#c9c9c9" stroke="#151515" stroke-width="1.3"/><path d="M196.42,728.8 V736" stroke="#000" stroke-width="1.25" fill="none"/><path d="M193.92,728.8 h5 M193.92,736 h5" stroke="#000" stroke-width="1.4" fill="none"/>
<circle cx="225.72" cy="734" r="4.1" fill="#c9c9c9" stroke="#151515" stroke-width="1.3"/><path d="M225.72,730.4 V737.6" stroke="#000" stroke-width="1.25" fill="none"/><path d="M223.22,730.4 h5 M223.22,737.6 h5" stroke="#000" stroke-width="1.4" fill="none"/>
<circle cx="274.56" cy="728.2" r="4.1" fill="#c9c9c9" stroke="#151515" stroke-width="1.3"/><path d="M274.56,724.6 V731.8" stroke="#000" stroke-width="1.25" fill="none"/><path d="M272.06,724.6 h5 M272.06,731.8 h5" stroke="#000" stroke-width="1.4" fill="none"/>
<path d="M116.3,706.3 L166.6,758.6 M176.7,728.3 L304.7,728.3" fill="none" stroke="#000" stroke-width="1.85"/>
</g>
<rect x="434.9" y="250.3" width="239.1" height="106.4" fill="none" stroke="#000" stroke-width="1.5"/>
<line x1="429.7" y1="250.3" x2="434.9" y2="250.3" stroke="#000" stroke-width="1.5"/>
<line x1="429.7" y1="303.5" x2="434.9" y2="303.5" stroke="#000" stroke-width="1.5"/>
<line x1="429.7" y1="356.7" x2="434.9" y2="356.7" stroke="#000" stroke-width="1.5"/>
<line x1="432.1" y1="276.9" x2="434.9" y2="276.9" stroke="#000" stroke-width="1.5"/>
<line x1="432.1" y1="330.1" x2="434.9" y2="330.1" stroke="#000" stroke-width="1.5"/>
<text x="425.3" y="307.9" font-size="14" text-anchor="end" fill="#000">892</text>
<text x="425.3" y="361.1" font-size="14" text-anchor="end" fill="#000">891</text>
<line x1="434.9" y1="356.7" x2="434.9" y2="361.7" stroke="#000" stroke-width="1.5"/>
<line x1="509.62" y1="356.7" x2="509.62" y2="361.7" stroke="#000" stroke-width="1.5"/>
<line x1="584.34" y1="356.7" x2="584.34" y2="361.7" stroke="#000" stroke-width="1.5"/>
<line x1="659.06" y1="356.7" x2="659.06" y2="361.7" stroke="#000" stroke-width="1.5"/>
<line x1="472.26" y1="356.7" x2="472.26" y2="359.5" stroke="#000" stroke-width="1.5"/>
<line x1="546.98" y1="356.7" x2="546.98" y2="359.5" stroke="#000" stroke-width="1.5"/>
<line x1="621.7" y1="356.7" x2="621.7" y2="359.5" stroke="#000" stroke-width="1.5"/>
<text x="434.9" y="376.2" font-size="14" text-anchor="middle" fill="#000">100</text>
<text x="509.62" y="376.2" font-size="14" text-anchor="middle" fill="#000">150</text>
<text x="584.34" y="376.2" font-size="14" text-anchor="middle" fill="#000">200</text>
<text x="659.06" y="376.2" font-size="14" text-anchor="middle" fill="#000">250</text>
<clipPath id="c5"><rect x="434.9" y="250.3" width="239.1" height="106.4"/></clipPath><g clip-path="url(#c5)">
<circle cx="434.9" cy="293.9" r="4.1" fill="#d0d0d0" stroke="#333" stroke-width="1.0"/>
<circle cx="472.26" cy="301.6" r="4.1" fill="#d0d0d0" stroke="#333" stroke-width="1.0"/>
<circle cx="509.62" cy="310.4" r="4.1" fill="#d0d0d0" stroke="#333" stroke-width="1.0"/>
<circle cx="524.56" cy="302.5" r="4.1" fill="#d0d0d0" stroke="#333" stroke-width="1.0"/>
<circle cx="546.98" cy="304.3" r="4.1" fill="#d0d0d0" stroke="#333" stroke-width="1.0"/>
<circle cx="569.39" cy="304.1" r="4.1" fill="#d0d0d0" stroke="#333" stroke-width="1.0"/>
<circle cx="576.87" cy="297.3" r="4.1" fill="#d0d0d0" stroke="#333" stroke-width="1.0"/>
<circle cx="584.34" cy="319.1" r="4.1" fill="#d0d0d0" stroke="#333" stroke-width="1.0"/>
<circle cx="591.81" cy="312.7" r="4.1" fill="#d0d0d0" stroke="#333" stroke-width="1.0"/>
<circle cx="599.28" cy="311.6" r="4.1" fill="#d0d0d0" stroke="#333" stroke-width="1.0"/>
<circle cx="606.75" cy="324.2" r="4.1" fill="#d0d0d0" stroke="#333" stroke-width="1.0"/>
<circle cx="614.23" cy="322.4" r="4.1" fill="#d0d0d0" stroke="#333" stroke-width="1.0"/>
<circle cx="621.7" cy="337.8" r="4.1" fill="#d0d0d0" stroke="#333" stroke-width="1.0"/>
<circle cx="659.06" cy="332.2" r="4.1" fill="#d0d0d0" stroke="#333" stroke-width="1.0"/>
<path d="M434.9,292 L436.39,292.27 L437.89,292.55 L439.38,292.82 L440.88,293.09 L442.37,293.37 L443.87,293.64 L445.36,293.91 L446.85,294.19 L448.35,294.46 L449.84,294.73 L451.34,295.01 L452.83,295.28 L454.33,295.55 L455.82,295.83 L457.32,296.1 L458.81,296.37 L460.3,296.65 L461.8,296.92 L463.29,297.19 L464.79,297.47 L466.28,297.74 L467.78,298.01 L469.27,298.29 L470.76,298.56 L472.26,298.83 L473.75,299.11 L475.25,299.38 L476.74,299.65 L478.24,299.93 L479.73,300.2 L481.23,300.47 L482.72,300.75 L484.21,301.02 L485.71,301.29 L487.2,301.57 L488.7,301.84 L490.19,302.11 L491.69,302.39 L493.18,302.66 L494.67,302.93 L496.17,303.21 L497.66,303.48 L499.16,303.75 L500.65,304.03 L502.15,304.3 L503.64,304.57 L505.14,304.85 L506.63,305.12 L508.12,305.39 L509.62,305.67 L511.11,305.94 L512.61,306.21 L514.1,306.49 L515.6,306.76 L517.09,307.03 L518.59,307.31 L520.08,307.58 L521.57,307.85 L523.07,308.13 L524.56,308.4 L526.06,308.67 L527.55,308.94 L529.05,309.22 L530.54,309.49 L532.03,309.75 L533.53,310.02 L535.02,310.28 L536.52,310.52 L538.01,310.76 L539.51,310.98 L541,311.17 L542.5,311.32 L543.99,311.43 L545.48,311.47 L546.98,311.42 L548.47,311.28 L549.97,311.02 L551.46,310.63 L552.96,310.08 L554.45,309.38 L555.94,308.52 L557.44,307.53 L558.93,306.41 L560.43,305.22 L561.92,303.99 L563.42,302.8 L564.91,301.71 L566.4,300.79 L567.9,300.1 L569.39,299.69 L570.89,299.62 L572.38,299.89 L573.88,300.51 L575.37,301.46 L576.87,302.7 L578.36,304.17 L579.85,305.81 L581.35,307.55 L582.84,309.32 L584.34,311.06 L585.83,312.72 L587.33,314.26 L588.82,315.67 L590.32,316.91 L591.81,318.01 L593.3,318.95 L594.8,319.76 L596.29,320.44 L597.79,321.03 L599.28,321.54 L600.78,321.98 L602.27,322.38 L603.76,322.73 L605.26,323.06 L606.75,323.37 L608.25,323.67 L609.74,323.96 L611.24,324.24 L612.73,324.52 L614.23,324.8 L615.72,325.07 L617.21,325.35 L618.71,325.62 L620.2,325.89 L621.7,326.17 L623.19,326.44 L624.69,326.71 L626.18,326.99 L627.67,327.26 L629.17,327.53 L630.66,327.81 L632.16,328.08 L633.65,328.35 L635.15,328.63 L636.64,328.9 L638.13,329.17 L639.63,329.45 L641.12,329.72 L642.62,329.99 L644.11,330.27 L645.61,330.54 L647.1,330.81 L648.6,331.09 L650.09,331.36 L651.58,331.63 L653.08,331.91 L654.57,332.18 L656.07,332.45 L657.56,332.73 L659.06,333" fill="none" stroke="#000" stroke-width="1.85"/>
</g>
<rect x="434.9" y="391.6" width="239.1" height="107.2" fill="none" stroke="#000" stroke-width="1.5"/>
<line x1="429.7" y1="391.6" x2="434.9" y2="391.6" stroke="#000" stroke-width="1.5"/>
<line x1="429.7" y1="427.33" x2="434.9" y2="427.33" stroke="#000" stroke-width="1.5"/>
<line x1="429.7" y1="463.07" x2="434.9" y2="463.07" stroke="#000" stroke-width="1.5"/>
<line x1="429.7" y1="498.8" x2="434.9" y2="498.8" stroke="#000" stroke-width="1.5"/>
<line x1="432.1" y1="409.47" x2="434.9" y2="409.47" stroke="#000" stroke-width="1.5"/>
<line x1="432.1" y1="445.2" x2="434.9" y2="445.2" stroke="#000" stroke-width="1.5"/>
<line x1="432.1" y1="480.93" x2="434.9" y2="480.93" stroke="#000" stroke-width="1.5"/>
<text x="420.1" y="398.2" font-size="14" text-anchor="end" fill="#000">935</text>
<text x="420.1" y="433.93" font-size="14" text-anchor="end" fill="#000">934</text>
<text x="420.1" y="469.67" font-size="14" text-anchor="end" fill="#000">933</text>
<text x="420.1" y="505.4" font-size="14" text-anchor="end" fill="#000">932</text>
<line x1="434.9" y1="498.8" x2="434.9" y2="503.8" stroke="#000" stroke-width="1.5"/>
<line x1="509.62" y1="498.8" x2="509.62" y2="503.8" stroke="#000" stroke-width="1.5"/>
<line x1="584.34" y1="498.8" x2="584.34" y2="503.8" stroke="#000" stroke-width="1.5"/>
<line x1="659.06" y1="498.8" x2="659.06" y2="503.8" stroke="#000" stroke-width="1.5"/>
<line x1="472.26" y1="498.8" x2="472.26" y2="501.6" stroke="#000" stroke-width="1.5"/>
<line x1="546.98" y1="498.8" x2="546.98" y2="501.6" stroke="#000" stroke-width="1.5"/>
<line x1="621.7" y1="498.8" x2="621.7" y2="501.6" stroke="#000" stroke-width="1.5"/>
<text x="434.9" y="518.3" font-size="14" text-anchor="middle" fill="#000">100</text>
<text x="509.62" y="518.3" font-size="14" text-anchor="middle" fill="#000">150</text>
<text x="584.34" y="518.3" font-size="14" text-anchor="middle" fill="#000">200</text>
<text x="659.06" y="518.3" font-size="14" text-anchor="middle" fill="#000">250</text>
<clipPath id="c6"><rect x="434.9" y="391.6" width="239.1" height="107.2"/></clipPath><g clip-path="url(#c6)">
<circle cx="434.9" cy="445" r="4.1" fill="#d0d0d0" stroke="#333" stroke-width="1.0"/>
<circle cx="472.26" cy="444.1" r="4.1" fill="#d0d0d0" stroke="#333" stroke-width="1.0"/>
<circle cx="509.62" cy="446.4" r="4.1" fill="#d0d0d0" stroke="#333" stroke-width="1.0"/>
<circle cx="524.56" cy="444.7" r="4.1" fill="#d0d0d0" stroke="#333" stroke-width="1.0"/>
<circle cx="546.98" cy="438.1" r="4.1" fill="#d0d0d0" stroke="#333" stroke-width="1.0"/>
<circle cx="569.39" cy="440.2" r="4.1" fill="#d0d0d0" stroke="#333" stroke-width="1.0"/>
<circle cx="576.87" cy="446.6" r="4.1" fill="#d0d0d0" stroke="#333" stroke-width="1.0"/>
<circle cx="584.34" cy="446.6" r="4.1" fill="#d0d0d0" stroke="#333" stroke-width="1.0"/>
<circle cx="591.81" cy="444.7" r="4.1" fill="#d0d0d0" stroke="#333" stroke-width="1.0"/>
<circle cx="599.28" cy="442.7" r="4.1" fill="#d0d0d0" stroke="#333" stroke-width="1.0"/>
<circle cx="606.75" cy="444.5" r="4.1" fill="#d0d0d0" stroke="#333" stroke-width="1.0"/>
<circle cx="614.23" cy="443.7" r="4.1" fill="#d0d0d0" stroke="#333" stroke-width="1.0"/>
<circle cx="621.7" cy="449.3" r="4.1" fill="#d0d0d0" stroke="#333" stroke-width="1.0"/>
<circle cx="659.06" cy="443.1" r="4.1" fill="#d0d0d0" stroke="#333" stroke-width="1.0"/>
<path d="M434.9,444.7 L436.39,444.72 L437.89,444.74 L439.38,444.76 L440.88,444.78 L442.37,444.81 L443.87,444.83 L445.36,444.85 L446.85,444.87 L448.35,444.89 L449.84,444.91 L451.34,444.93 L452.83,444.95 L454.33,444.97 L455.82,444.99 L457.32,445.01 L458.81,445.03 L460.3,445.05 L461.8,445.07 L463.29,445.09 L464.79,445.11 L466.28,445.13 L467.78,445.15 L469.27,445.16 L470.76,445.18 L472.26,445.2 L473.75,445.22 L475.25,445.23 L476.74,445.25 L478.24,445.27 L479.73,445.29 L481.23,445.3 L482.72,445.32 L484.21,445.33 L485.71,445.35 L487.2,445.36 L488.7,445.38 L490.19,445.39 L491.69,445.41 L493.18,445.42 L494.67,445.43 L496.17,445.44 L497.66,445.46 L499.16,445.47 L500.65,445.48 L502.15,445.49 L503.64,445.5 L505.14,445.51 L506.63,445.52 L508.12,445.53 L509.62,445.54 L511.11,445.55 L512.61,445.55 L514.1,445.56 L515.6,445.56 L517.09,445.56 L518.59,445.56 L520.08,445.55 L521.57,445.53 L523.07,445.49 L524.56,445.44 L526.06,445.37 L527.55,445.26 L529.05,445.11 L530.54,444.9 L532.03,444.62 L533.53,444.27 L535.02,443.82 L536.52,443.28 L538.01,442.63 L539.51,441.88 L541,441.03 L542.5,440.11 L543.99,439.13 L545.48,438.13 L546.98,437.15 L548.47,436.24 L549.97,435.44 L551.46,434.8 L552.96,434.34 L554.45,434.1 L555.94,434.1 L557.44,434.32 L558.93,434.76 L560.43,435.39 L561.92,436.18 L563.42,437.08 L564.91,438.04 L566.4,439.03 L567.9,439.99 L569.39,440.9 L570.89,441.74 L572.38,442.47 L573.88,443.11 L575.37,443.64 L576.87,444.07 L578.36,444.41 L579.85,444.67 L581.35,444.87 L582.84,445.01 L584.34,445.1 L585.83,445.16 L587.33,445.2 L588.82,445.22 L590.32,445.23 L591.81,445.23 L593.3,445.22 L594.8,445.2 L596.29,445.19 L597.79,445.17 L599.28,445.15 L600.78,445.13 L602.27,445.11 L603.76,445.09 L605.26,445.07 L606.75,445.04 L608.25,445.02 L609.74,445 L611.24,444.97 L612.73,444.95 L614.23,444.93 L615.72,444.9 L617.21,444.88 L618.71,444.85 L620.2,444.83 L621.7,444.8 L623.19,444.77 L624.69,444.75 L626.18,444.72 L627.67,444.69 L629.17,444.67 L630.66,444.64 L632.16,444.61 L633.65,444.59 L635.15,444.56 L636.64,444.53 L638.13,444.5 L639.63,444.47 L641.12,444.45 L642.62,444.42 L644.11,444.39 L645.61,444.36 L647.1,444.33 L648.6,444.3 L650.09,444.27 L651.58,444.25 L653.08,444.22 L654.57,444.19 L656.07,444.16 L657.56,444.13 L659.06,444.1" fill="none" stroke="#000" stroke-width="1.85"/>
</g>
<rect x="434.9" y="534.2" width="239.1" height="106.3" fill="none" stroke="#000" stroke-width="1.5"/>
<line x1="429.7" y1="534.2" x2="434.9" y2="534.2" stroke="#000" stroke-width="1.5"/>
<line x1="429.7" y1="605.07" x2="434.9" y2="605.07" stroke="#000" stroke-width="1.5"/>
<line x1="432.1" y1="569.63" x2="434.9" y2="569.63" stroke="#000" stroke-width="1.5"/>
<line x1="432.1" y1="640.5" x2="434.9" y2="640.5" stroke="#000" stroke-width="1.5"/>
<text x="425.4" y="538.6" font-size="14" text-anchor="end" fill="#000">966</text>
<text x="425.4" y="609.47" font-size="14" text-anchor="end" fill="#000">964</text>
<line x1="434.9" y1="640.5" x2="434.9" y2="645.5" stroke="#000" stroke-width="1.5"/>
<line x1="509.62" y1="640.5" x2="509.62" y2="645.5" stroke="#000" stroke-width="1.5"/>
<line x1="584.34" y1="640.5" x2="584.34" y2="645.5" stroke="#000" stroke-width="1.5"/>
<line x1="659.06" y1="640.5" x2="659.06" y2="645.5" stroke="#000" stroke-width="1.5"/>
<line x1="472.26" y1="640.5" x2="472.26" y2="643.3" stroke="#000" stroke-width="1.5"/>
<line x1="546.98" y1="640.5" x2="546.98" y2="643.3" stroke="#000" stroke-width="1.5"/>
<line x1="621.7" y1="640.5" x2="621.7" y2="643.3" stroke="#000" stroke-width="1.5"/>
<text x="434.9" y="660" font-size="14" text-anchor="middle" fill="#000">100</text>
<text x="509.62" y="660" font-size="14" text-anchor="middle" fill="#000">150</text>
<text x="584.34" y="660" font-size="14" text-anchor="middle" fill="#000">200</text>
<text x="659.06" y="660" font-size="14" text-anchor="middle" fill="#000">250</text>
<clipPath id="c7"><rect x="434.9" y="534.2" width="239.1" height="106.3"/></clipPath><g clip-path="url(#c7)">
<path d="M434.9,539.3 V549.9" stroke="#111" stroke-width="1" fill="none"/><circle cx="434.9" cy="544.6" r="4.0" fill="#bcbcbc" stroke="#111" stroke-width="1.15"/><rect x="431.9" y="542.9" width="6" height="3.4" fill="#dcdcdc"/><path d="M431.9,542.9 h6 M431.9,546.3 h6" stroke="#000" stroke-width="1.0" fill="none"/>
<path d="M472.26,549.5 V560.1" stroke="#111" stroke-width="1" fill="none"/><circle cx="472.26" cy="554.8" r="4.0" fill="#bcbcbc" stroke="#111" stroke-width="1.15"/><rect x="469.26" y="553.1" width="6" height="3.4" fill="#dcdcdc"/><path d="M469.26,553.1 h6 M469.26,556.5 h6" stroke="#000" stroke-width="1.0" fill="none"/>
<path d="M509.62,559.3 V569.9" stroke="#111" stroke-width="1" fill="none"/><circle cx="509.62" cy="564.6" r="4.0" fill="#bcbcbc" stroke="#111" stroke-width="1.15"/><rect x="506.62" y="562.9" width="6" height="3.4" fill="#dcdcdc"/><path d="M506.62,562.9 h6 M506.62,566.3 h6" stroke="#000" stroke-width="1.0" fill="none"/>
<path d="M524.56,564.4 V575" stroke="#111" stroke-width="1" fill="none"/><circle cx="524.56" cy="569.7" r="4.0" fill="#bcbcbc" stroke="#111" stroke-width="1.15"/><rect x="521.56" y="568" width="6" height="3.4" fill="#dcdcdc"/><path d="M521.56,568 h6 M521.56,571.4 h6" stroke="#000" stroke-width="1.0" fill="none"/>
<path d="M546.98,564.2 V574.8" stroke="#111" stroke-width="1" fill="none"/><circle cx="546.98" cy="569.5" r="4.0" fill="#bcbcbc" stroke="#111" stroke-width="1.15"/><rect x="543.98" y="567.8" width="6" height="3.4" fill="#dcdcdc"/><path d="M543.98,567.8 h6 M543.98,571.2 h6" stroke="#000" stroke-width="1.0" fill="none"/>
<path d="M569.39,568.4 V579" stroke="#111" stroke-width="1" fill="none"/><circle cx="569.39" cy="573.7" r="4.0" fill="#bcbcbc" stroke="#111" stroke-width="1.15"/><rect x="566.39" y="572" width="6" height="3.4" fill="#dcdcdc"/><path d="M566.39,572 h6 M566.39,575.4 h6" stroke="#000" stroke-width="1.0" fill="none"/>
<path d="M576.87,574.6 V585.2" stroke="#111" stroke-width="1" fill="none"/><circle cx="576.87" cy="579.9" r="4.0" fill="#bcbcbc" stroke="#111" stroke-width="1.15"/><rect x="573.87" y="578.2" width="6" height="3.4" fill="#dcdcdc"/><path d="M573.87,578.2 h6 M573.87,581.6 h6" stroke="#000" stroke-width="1.0" fill="none"/>
<path d="M584.34,581.3 V591.9" stroke="#111" stroke-width="1" fill="none"/><circle cx="584.34" cy="586.6" r="4.0" fill="#bcbcbc" stroke="#111" stroke-width="1.15"/><rect x="581.34" y="584.9" width="6" height="3.4" fill="#dcdcdc"/><path d="M581.34,584.9 h6 M581.34,588.3 h6" stroke="#000" stroke-width="1.0" fill="none"/>
<path d="M591.81,583.8 V594.4" stroke="#111" stroke-width="1" fill="none"/><circle cx="591.81" cy="589.1" r="4.0" fill="#bcbcbc" stroke="#111" stroke-width="1.15"/><rect x="588.81" y="587.4" width="6" height="3.4" fill="#dcdcdc"/><path d="M588.81,587.4 h6 M588.81,590.8 h6" stroke="#000" stroke-width="1.0" fill="none"/>
<path d="M599.28,581.9 V592.5" stroke="#111" stroke-width="1" fill="none"/><circle cx="599.28" cy="587.2" r="4.0" fill="#bcbcbc" stroke="#111" stroke-width="1.15"/><rect x="596.28" y="585.5" width="6" height="3.4" fill="#dcdcdc"/><path d="M596.28,585.5 h6 M596.28,588.9 h6" stroke="#000" stroke-width="1.0" fill="none"/>
<path d="M606.75,591.3 V601.9" stroke="#111" stroke-width="1" fill="none"/><circle cx="606.75" cy="596.6" r="4.0" fill="#bcbcbc" stroke="#111" stroke-width="1.15"/><rect x="603.75" y="594.9" width="6" height="3.4" fill="#dcdcdc"/><path d="M603.75,594.9 h6 M603.75,598.3 h6" stroke="#000" stroke-width="1.0" fill="none"/>
<path d="M614.23,589.6 V600.2" stroke="#111" stroke-width="1" fill="none"/><circle cx="614.23" cy="594.9" r="4.0" fill="#bcbcbc" stroke="#111" stroke-width="1.15"/><rect x="611.23" y="593.2" width="6" height="3.4" fill="#dcdcdc"/><path d="M611.23,593.2 h6 M611.23,596.6 h6" stroke="#000" stroke-width="1.0" fill="none"/>
<path d="M621.7,599 V609.6" stroke="#111" stroke-width="1" fill="none"/><circle cx="621.7" cy="604.3" r="4.0" fill="#bcbcbc" stroke="#111" stroke-width="1.15"/><rect x="618.7" y="602.6" width="6" height="3.4" fill="#dcdcdc"/><path d="M618.7,602.6 h6 M618.7,606 h6" stroke="#000" stroke-width="1.0" fill="none"/>
<path d="M659.06,600.6 V611.2" stroke="#111" stroke-width="1" fill="none"/><circle cx="659.06" cy="605.9" r="4.0" fill="#bcbcbc" stroke="#111" stroke-width="1.15"/><rect x="656.06" y="604.2" width="6" height="3.4" fill="#dcdcdc"/><path d="M656.06,604.2 h6 M656.06,607.6 h6" stroke="#000" stroke-width="1.0" fill="none"/>
<path d="M434.9,545 L436.39,545.41 L437.89,545.82 L439.38,546.24 L440.88,546.65 L442.37,547.06 L443.87,547.47 L445.36,547.88 L446.85,548.3 L448.35,548.71 L449.84,549.12 L451.34,549.53 L452.83,549.94 L454.33,550.36 L455.82,550.77 L457.32,551.18 L458.81,551.59 L460.3,552 L461.8,552.42 L463.29,552.83 L464.79,553.24 L466.28,553.65 L467.78,554.06 L469.27,554.48 L470.76,554.89 L472.26,555.3 L473.75,555.71 L475.25,556.12 L476.74,556.54 L478.24,556.95 L479.73,557.36 L481.23,557.77 L482.72,558.18 L484.21,558.6 L485.71,559.01 L487.2,559.42 L488.7,559.83 L490.19,560.24 L491.69,560.66 L493.18,561.07 L494.67,561.48 L496.17,561.89 L497.66,562.3 L499.16,562.72 L500.65,563.13 L502.15,563.54 L503.64,563.95 L505.14,564.36 L506.63,564.78 L508.12,565.19 L509.62,565.6 L511.11,566.01 L512.61,566.42 L514.1,566.83 L515.6,567.23 L517.09,567.63 L518.59,568.03 L520.08,568.43 L521.57,568.81 L523.07,569.18 L524.56,569.54 L526.06,569.88 L527.55,570.2 L529.05,570.49 L530.54,570.74 L532.03,570.94 L533.53,571.1 L535.02,571.19 L536.52,571.22 L538.01,571.18 L539.51,571.07 L541,570.88 L542.5,570.62 L543.99,570.3 L545.48,569.92 L546.98,569.51 L548.47,569.08 L549.97,568.67 L551.46,568.28 L552.96,567.96 L554.45,567.72 L555.94,567.6 L557.44,567.61 L558.93,567.78 L560.43,568.11 L561.92,568.6 L563.42,569.26 L564.91,570.07 L566.4,571.02 L567.9,572.08 L569.39,573.22 L570.89,574.43 L572.38,575.68 L573.88,576.93 L575.37,578.16 L576.87,579.36 L578.36,580.51 L579.85,581.59 L581.35,582.6 L582.84,583.54 L584.34,584.41 L585.83,585.2 L587.33,585.93 L588.82,586.6 L590.32,587.22 L591.81,587.79 L593.3,588.33 L594.8,588.84 L596.29,589.32 L597.79,589.78 L599.28,590.23 L600.78,590.67 L602.27,591.11 L603.76,591.53 L605.26,591.95 L606.75,592.37 L608.25,592.79 L609.74,593.2 L611.24,593.61 L612.73,594.03 L614.23,594.44 L615.72,594.85 L617.21,595.26 L618.71,595.68 L620.2,596.09 L621.7,596.5 L623.19,596.91 L624.69,597.32 L626.18,597.74 L627.67,598.15 L629.17,598.56 L630.66,598.97 L632.16,599.38 L633.65,599.8 L635.15,600.21 L636.64,600.62 L638.13,601.03 L639.63,601.44 L641.12,601.86 L642.62,602.27 L644.11,602.68 L645.61,603.09 L647.1,603.5 L648.6,603.92 L650.09,604.33 L651.58,604.74 L653.08,605.15 L654.57,605.56 L656.07,605.98 L657.56,606.39 L659.06,606.8" fill="none" stroke="#000" stroke-width="1.85"/>
</g>
<rect x="434.9" y="675.8" width="239.1" height="106.7" fill="none" stroke="#000" stroke-width="1.5"/>
<line x1="429.7" y1="675.8" x2="434.9" y2="675.8" stroke="#000" stroke-width="1.5"/>
<line x1="429.7" y1="711.37" x2="434.9" y2="711.37" stroke="#000" stroke-width="1.5"/>
<line x1="429.7" y1="746.93" x2="434.9" y2="746.93" stroke="#000" stroke-width="1.5"/>
<line x1="429.7" y1="782.5" x2="434.9" y2="782.5" stroke="#000" stroke-width="1.5"/>
<line x1="432.1" y1="693.58" x2="434.9" y2="693.58" stroke="#000" stroke-width="1.5"/>
<line x1="432.1" y1="729.15" x2="434.9" y2="729.15" stroke="#000" stroke-width="1.5"/>
<line x1="432.1" y1="764.72" x2="434.9" y2="764.72" stroke="#000" stroke-width="1.5"/>
<text x="425.4" y="680.2" font-size="14" text-anchor="end" fill="#000">368</text>
<text x="425.4" y="715.77" font-size="14" text-anchor="end" fill="#000">367</text>
<text x="425.4" y="751.33" font-size="14" text-anchor="end" fill="#000">366</text>
<text x="425.4" y="786.9" font-size="14" text-anchor="end" fill="#000">365</text>
<line x1="434.9" y1="782.5" x2="434.9" y2="787.5" stroke="#000" stroke-width="1.5"/>
<line x1="509.62" y1="782.5" x2="509.62" y2="787.5" stroke="#000" stroke-width="1.5"/>
<line x1="584.34" y1="782.5" x2="584.34" y2="787.5" stroke="#000" stroke-width="1.5"/>
<line x1="659.06" y1="782.5" x2="659.06" y2="787.5" stroke="#000" stroke-width="1.5"/>
<line x1="472.26" y1="782.5" x2="472.26" y2="785.3" stroke="#000" stroke-width="1.5"/>
<line x1="546.98" y1="782.5" x2="546.98" y2="785.3" stroke="#000" stroke-width="1.5"/>
<line x1="621.7" y1="782.5" x2="621.7" y2="785.3" stroke="#000" stroke-width="1.5"/>
<text x="434.9" y="802" font-size="14" text-anchor="middle" fill="#000">100</text>
<text x="509.62" y="802" font-size="14" text-anchor="middle" fill="#000">150</text>
<text x="584.34" y="802" font-size="14" text-anchor="middle" fill="#000">200</text>
<text x="659.06" y="802" font-size="14" text-anchor="middle" fill="#000">250</text>
<clipPath id="c8"><rect x="434.9" y="675.8" width="239.1" height="106.7"/></clipPath><g clip-path="url(#c8)">
<circle cx="434.9" cy="689.6" r="4.9" fill="#d2d2d2" stroke="#1a1a1a" stroke-width="1.0"/><path d="M434.9,684.4 V694.8" stroke="#000" stroke-width="0.9" fill="none"/><path d="M432.3,687.1 h5.2 M432.3,692.1 h5.2" stroke="#000" stroke-width="1.0" fill="none"/>
<circle cx="472.26" cy="714.3" r="4.9" fill="#d2d2d2" stroke="#1a1a1a" stroke-width="1.0"/><path d="M472.26,709.1 V719.5" stroke="#000" stroke-width="0.9" fill="none"/><path d="M469.66,711.8 h5.2 M469.66,716.8 h5.2" stroke="#000" stroke-width="1.0" fill="none"/>
<circle cx="509.62" cy="729.5" r="4.9" fill="#d2d2d2" stroke="#1a1a1a" stroke-width="1.0"/><path d="M509.62,724.3 V734.7" stroke="#000" stroke-width="0.9" fill="none"/><path d="M507.02,727 h5.2 M507.02,732 h5.2" stroke="#000" stroke-width="1.0" fill="none"/>
<circle cx="524.56" cy="717" r="4.9" fill="#d2d2d2" stroke="#1a1a1a" stroke-width="1.0"/><path d="M524.56,711.8 V722.2" stroke="#000" stroke-width="0.9" fill="none"/><path d="M521.96,714.5 h5.2 M521.96,719.5 h5.2" stroke="#000" stroke-width="1.0" fill="none"/>
<circle cx="546.98" cy="728.6" r="4.9" fill="#d2d2d2" stroke="#1a1a1a" stroke-width="1.0"/><path d="M546.98,723.4 V733.8" stroke="#000" stroke-width="0.9" fill="none"/><path d="M544.38,726.1 h5.2 M544.38,731.1 h5.2" stroke="#000" stroke-width="1.0" fill="none"/>
<circle cx="569.39" cy="706.2" r="4.9" fill="#d2d2d2" stroke="#1a1a1a" stroke-width="1.0"/><path d="M569.39,701 V711.4" stroke="#000" stroke-width="0.9" fill="none"/><path d="M566.79,703.7 h5.2 M566.79,708.7 h5.2" stroke="#000" stroke-width="1.0" fill="none"/>
<circle cx="576.87" cy="717" r="4.9" fill="#d2d2d2" stroke="#1a1a1a" stroke-width="1.0"/><path d="M576.87,711.8 V722.2" stroke="#000" stroke-width="0.9" fill="none"/><path d="M574.27,714.5 h5.2 M574.27,719.5 h5.2" stroke="#000" stroke-width="1.0" fill="none"/>
<circle cx="584.34" cy="716.5" r="4.9" fill="#d2d2d2" stroke="#1a1a1a" stroke-width="1.0"/><path d="M584.34,711.3 V721.7" stroke="#000" stroke-width="0.9" fill="none"/><path d="M581.74,714 h5.2 M581.74,719 h5.2" stroke="#000" stroke-width="1.0" fill="none"/>
<circle cx="591.81" cy="733.5" r="4.9" fill="#d2d2d2" stroke="#1a1a1a" stroke-width="1.0"/><path d="M591.81,728.3 V738.7" stroke="#000" stroke-width="0.9" fill="none"/><path d="M589.21,731 h5.2 M589.21,736 h5.2" stroke="#000" stroke-width="1.0" fill="none"/>
<circle cx="599.28" cy="730.4" r="4.9" fill="#d2d2d2" stroke="#1a1a1a" stroke-width="1.0"/><path d="M599.28,725.2 V735.6" stroke="#000" stroke-width="0.9" fill="none"/><path d="M596.68,727.9 h5.2 M596.68,732.9 h5.2" stroke="#000" stroke-width="1.0" fill="none"/>
<circle cx="606.75" cy="747.2" r="4.9" fill="#d2d2d2" stroke="#1a1a1a" stroke-width="1.0"/><path d="M606.75,742 V752.4" stroke="#000" stroke-width="0.9" fill="none"/><path d="M604.15,744.7 h5.2 M604.15,749.7 h5.2" stroke="#000" stroke-width="1.0" fill="none"/>
<circle cx="614.23" cy="729.5" r="4.9" fill="#d2d2d2" stroke="#1a1a1a" stroke-width="1.0"/><path d="M614.23,724.3 V734.7" stroke="#000" stroke-width="0.9" fill="none"/><path d="M611.62,727 h5.2 M611.62,732 h5.2" stroke="#000" stroke-width="1.0" fill="none"/>
<circle cx="621.7" cy="756.4" r="4.9" fill="#d2d2d2" stroke="#1a1a1a" stroke-width="1.0"/><path d="M621.7,751.2 V761.6" stroke="#000" stroke-width="0.9" fill="none"/><path d="M619.1,753.9 h5.2 M619.1,758.9 h5.2" stroke="#000" stroke-width="1.0" fill="none"/>
<circle cx="659.06" cy="750.7" r="4.9" fill="#d2d2d2" stroke="#1a1a1a" stroke-width="1.0"/><path d="M659.06,745.5 V755.9" stroke="#000" stroke-width="0.9" fill="none"/><path d="M656.46,748.2 h5.2 M656.46,753.2 h5.2" stroke="#000" stroke-width="1.0" fill="none"/>
<path d="M435,691.9 C438.1,693.58 447.38,698.68 453.6,702 C459.82,705.32 466.08,708.75 472.3,711.8 C478.52,714.85 484.72,717.83 490.9,720.3 C497.08,722.77 504.43,725.15 509.4,726.6 C514.37,728.05 516.83,728.48 520.7,729 C524.57,729.52 529.13,730.03 532.6,729.7 C536.07,729.37 538.78,728.3 541.5,727 C544.22,725.7 546.43,723.62 548.9,721.9 C551.37,720.18 553.83,718.32 556.3,716.7 C558.77,715.08 561.6,713.2 563.7,712.2 C565.8,711.2 566.92,710.7 568.9,710.7 C570.88,710.7 573.5,711.08 575.6,712.2 C577.7,713.32 579.28,715.17 581.5,717.4 C583.72,719.63 586.68,723 588.9,725.6 C591.12,728.2 592.95,730.92 594.8,733 C596.65,735.08 597.58,735.85 600,738.1 C602.42,740.35 606.3,744.43 609.3,746.5 C612.3,748.57 615.1,749.65 618,750.5 C620.9,751.35 623.03,751.35 626.7,751.6 C630.37,751.85 634.55,751.93 640,752 C645.45,752.07 656.17,752 659.4,752" fill="none" stroke="#000" stroke-width="1.85"/>
</g>
<text x="286.4" y="271.2" class="sf" font-size="19.2" fill="#111" stroke="#111" stroke-width="0.2">&#957;</text>
<text x="296.3" y="277" font-size="10.8" fill="#111">2</text>
<text x="286.9" y="412.6" class="sf" font-size="19.2" fill="#111" stroke="#111" stroke-width="0.2">&#957;</text>
<text x="295.7" y="418.8" font-size="10.8" fill="#111">3</text>
<text x="286.6" y="552.3" class="sf" font-size="19.2" fill="#111" stroke="#111" stroke-width="0.2">&#957;</text>
<text x="295.9" y="557.6" font-size="10.8" fill="#111">4</text>
<text x="286.9" y="700" class="sf" font-size="19.2" fill="#111" stroke="#111" stroke-width="0.2">&#957;</text>
<text x="296.2" y="705.6" font-size="10.8" fill="#111">1</text>
<text x="651.4" y="271.2" class="sf" font-size="19.2" fill="#111" stroke="#111" stroke-width="0.2">&#957;</text>
<text x="660.9" y="277.1" font-size="10.8" fill="#111">2</text>
<text x="651.7" y="412.5" class="sf" font-size="19.2" fill="#111" stroke="#111" stroke-width="0.2">&#957;</text>
<text x="660.4" y="418.7" font-size="10.8" fill="#111">3</text>
<text x="651.4" y="552" class="sf" font-size="19.2" fill="#111" stroke="#111" stroke-width="0.2">&#957;</text>
<text x="660.9" y="557.6" font-size="10.8" fill="#111">4</text>
<text x="651.1" y="699.8" class="sf" font-size="19.2" fill="#111" stroke="#111" stroke-width="0.2">&#957;</text>
<text x="661.3" y="705.5" font-size="10.8" fill="#111">1</text>
<text x="0" y="0" transform="translate(13.8,566.6) rotate(-90)" class="sf" font-size="19.2" fill="#000">Raman shift (cm<tspan font-size="10" dx="2.6" dy="-6.5">-1</tspan><tspan dx="2.4" dy="6.5">)</tspan></text>
<text x="0" y="0" transform="translate(381,566.6) rotate(-90)" class="sf" font-size="19.2" fill="#000">Raman shift (cm<tspan font-size="10" dx="2.6" dy="-6.5">-1</tspan><tspan dx="2.4" dy="6.5">)</tspan></text>
<text x="199.5" y="828.9" font-size="20" text-anchor="middle" textLength="35.5" lengthAdjust="spacingAndGlyphs" fill="#000">T(K)</text>
<text x="545.5" y="829.5" font-size="20" text-anchor="middle" textLength="35.5" lengthAdjust="spacingAndGlyphs" fill="#000">T(K)</text>
</svg>
</body></html>
